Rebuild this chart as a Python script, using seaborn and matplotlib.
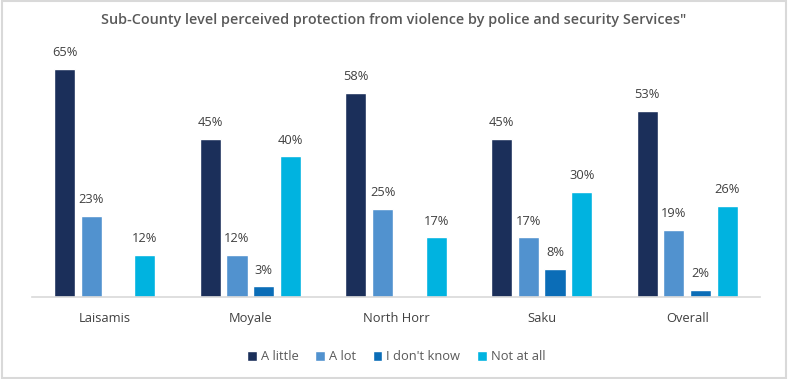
import matplotlib
matplotlib.use("Agg")
import matplotlib.pyplot as plt
import seaborn as sns
import pandas as pd
import numpy as np
from matplotlib.patches import Rectangle

categories = ["Laisamis", "Moyale", "North Horr", "Saku", "Overall"]
series = ["A little", "A lot", "I don't know", "Not at all"]
a_little = [65, 45, 58, 45, 53]
a_lot = [23, 12, 25, 17, 19]
dont_know = [np.nan, 3, np.nan, 8, 2]
not_at_all = [12, 40, 17, 30, 26]
colors = ["#1B2F5A", "#5192CF", "#0B6DB7", "#00B3E0"]
title = "Sub-County level perceived protection from violence by police and security Services\""

rows = []
for s, vals in zip(series, [a_little, a_lot, dont_know, not_at_all]):
    for c, v in zip(categories, vals):
        rows.append({"cat": c, "series": s, "val": v})
df = pd.DataFrame(rows)

sns.set_theme(style="white")
plt.rcParams["font.family"] = ["Open Sans", "DejaVu Sans"]

fig = plt.figure(figsize=(7.88, 3.79), dpi=100)
ax = fig.add_axes([0.0406, 0.2164, 0.9239, 0.649])
sns.barplot(data=df, x="cat", y="val", hue="series", order=categories,
            hue_order=series, palette=colors, width=0.735, gap=0.21,
            ax=ax, legend=True, saturation=1)
ax.set_ylim(0, 70)
ax.set_xlim(-0.5, 4.5)
ax.set_xlabel("")
ax.set_ylabel("")
ax.set_yticks([])
for sp in ["top", "left", "right"]:
    ax.spines[sp].set_visible(False)
ax.spines["bottom"].set_color("#D9D9D9")
ax.spines["bottom"].set_linewidth(1.2)
ax.tick_params(axis="x", length=0, labelsize=9.3, colors="#404040", pad=11)

for cont in ax.containers:
    labels = ["" if np.isnan(v) else f"{v:.0f}%" for v in cont.datavalues]
    ax.bar_label(cont, labels=labels, padding=7, fontsize=9.3, color="#404040")

leg = ax.legend(loc="upper center", bbox_to_anchor=(0.5, -0.17), ncol=4,
                frameon=False, fontsize=9.3, handlelength=0.75, handleheight=0.75,
                handletextpad=0.3, columnspacing=1.3, labelcolor="#595959")

fig.text(0.5, 0.947, title, ha="center", va="center", fontsize=10.4,
         fontweight="semibold", color="#595959")

fig.patches.append(Rectangle((0.002, 0.003), 0.996, 0.994, transform=fig.transFigure,
                             fill=False, edgecolor="#D9D9D9", linewidth=1.5))

fig.savefig("out.png", dpi=100)
